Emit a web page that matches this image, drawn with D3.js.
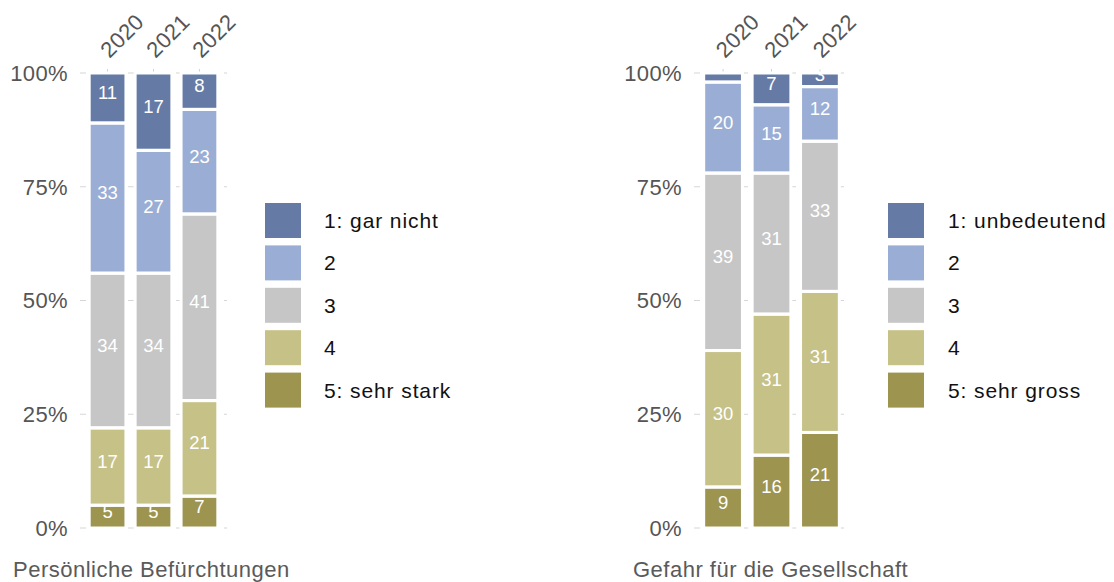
<!DOCTYPE html>
<html>
<head>
<meta charset="utf-8">
<script src="https://cdn.jsdelivr.net/npm/d3@7"></script>
<style>
  body { margin: 0; background: #fff; }
  svg { display: block; font-family: "Liberation Sans", Arial, Helvetica, sans-serif; }
</style>
</head>
<body>
<svg width="1114" height="582"></svg>
<script>
// data (percent per answer level, level 1 first)
const years = ["2020", "2021", "2022"];
const levels = ["1", "2", "3", "4", "5"];
const colors = ["#657ba6", "#9aaed5", "#c6c6c6", "#c6c186", "#9c944f"];
const yTicks = [0, 25, 50, 75, 100];

const persoenlich2020 = [11, 33, 34, 17, 5];
const persoenlich2021 = [17, 27, 34, 17, 5];
const persoenlich2022 = [8, 23, 41, 21, 7];
const persoenlichLegend = ["1: gar nicht", "2", "3", "4", "5: sehr stark"];

const gesellschaft2020 = [2, 20, 39, 30, 9];
const gesellschaft2021 = [7, 15, 31, 31, 16];
const gesellschaft2022 = [3, 12, 33, 31, 21];
const gesellschaftLegend = ["1: unbedeutend", "2", "3", "4", "5: sehr gross"];

const svg = d3.select("svg")

const y = d3.scaleLinear()
    .domain([0, 100])
    .range([528, 73])

function panel(opts) {
    const rows = opts.values.map((v, i) => {
        const row = { year: years[i] };
        levels.forEach((l, j) => row[l] = v[j]);
        return row;
    });
    // level 5 sits at the bottom
    const series = d3.stack().keys(levels.slice().reverse())(rows);
    const color = d3.scaleOrdinal().domain(levels).range(colors);

    const x = d3.scaleBand()
        .domain(years)
        .range(opts.range)
        .paddingInner(0.2)
        .paddingOuter(0.2)

    const g = svg.append("g")

    // dashed grid lines
    g.selectAll(".grid")
        .data(yTicks)
        .enter()
        .append("line")
        .attr("x1", opts.range[0])
        .attr("x2", opts.range[1])
        .attr("y1", d => y(d))
        .attr("y2", d => y(d))
        .attr("stroke", "#d6d6d6")
        .attr("stroke-width", 1.2)
        .attr("stroke-dasharray", "6,6")

    // y labels
    g.selectAll(".ylab")
        .data(yTicks)
        .enter()
        .append("text")
        .attr("x", opts.range[0] - 12)
        .attr("y", d => y(d))
        .attr("dy", "0.36em")
        .attr("text-anchor", "end")
        .attr("fill", "#555")
        .style("font-size", "22px")
        .style("letter-spacing", "0.4px")
        .text(d => d + "%")

    // top ticks + rotated years
    g.selectAll(".tick")
        .data(years)
        .enter()
        .append("line")
        .attr("x1", d => x(d) + x.bandwidth() / 2)
        .attr("x2", d => x(d) + x.bandwidth() / 2)
        .attr("y1", 69)
        .attr("y2", 72)
        .attr("stroke", "#d0d0d0")

    g.selectAll(".year")
        .data(years)
        .enter()
        .append("text")
        .attr("transform", d => `translate(${x(d) + x.bandwidth() / 2 + 2},59) rotate(-45)`)
        .attr("fill", "#555")
        .style("font-size", "22px")
        .style("letter-spacing", "0.4px")
        .text(d => d)

    const layers = g.selectAll(".layer")
        .data(series)
        .enter()
        .append("g")

    layers.selectAll("rect")
        .data(s => s.map(p => ({ key: s.key, p: p })))
        .enter()
        .append("rect")
        .attr("x", d => x(d.p.data.year))
        .attr("width", x.bandwidth())
        .attr("y", d => y(d.p[1]))
        .attr("height", d => y(d.p[0]) - y(d.p[1]))
        .attr("fill", d => color(d.key))

    const segs = series.flatMap(s => s.map(p => ({ key: s.key, p: p })));

    g.selectAll(".val")
        .data(segs.filter(d => d.p[1] - d.p[0] >= 3))
        .enter()
        .append("text")
        .attr("x", d => x(d.p.data.year) + x.bandwidth() / 2)
        .attr("y", d => (y(d.p[0]) + y(d.p[1])) / 2 + 1)
        .attr("text-anchor", "middle")
        .attr("fill", "#fff")
        .style("font-size", "18.5px")
        .text(d => d.p[1] - d.p[0])

    // white outlines over the labels
    g.selectAll(".outline")
        .data(segs)
        .enter()
        .append("rect")
        .attr("x", d => x(d.p.data.year))
        .attr("width", x.bandwidth())
        .attr("y", d => y(d.p[1]))
        .attr("height", d => y(d.p[0]) - y(d.p[1]))
        .attr("fill", "none")
        .attr("stroke", "#fff")
        .attr("stroke-width", 3)

    // legend
    const leg = g.selectAll(".leg")
        .data(opts.legend)
        .enter()
        .append("g")
        .attr("transform", (d, i) => `translate(${opts.legendX},${203 + i * 42.4})`)

    leg.append("rect")
        .attr("width", 36)
        .attr("height", 35)
        .attr("fill", (d, i) => colors[i])

    leg.append("text")
        .attr("x", opts.legendX2 - opts.legendX)
        .attr("y", 17.5)
        .attr("dy", "0.36em")
        .attr("fill", "#111")
        .style("font-size", "21px")
        .style("letter-spacing", "0.9px")
        .text(d => d)

    g.append("text")
        .attr("x", opts.titleX)
        .attr("y", 577)
        .attr("fill", "#5a5a5a")
        .style("font-size", "22px")
        .style("letter-spacing", "0.5px")
        .text(opts.title)
}

panel({
    values: [persoenlich2020, persoenlich2021, persoenlich2022],
    range: [80, 227],
    legend: persoenlichLegend,
    legendX: 265,
    legendX2: 324,
    title: "Persönliche Befürchtungen",
    titleX: 13
})

panel({
    values: [gesellschaft2020, gesellschaft2021, gesellschaft2022],
    range: [694, 849],
    legend: gesellschaftLegend,
    legendX: 888,
    legendX2: 948,
    title: "Gefahr für die Gesellschaft",
    titleX: 633
})
</script>
</body>
</html>
